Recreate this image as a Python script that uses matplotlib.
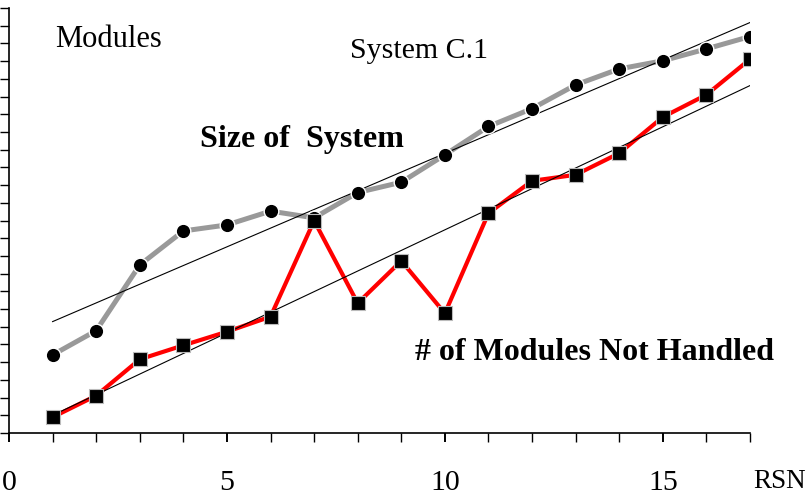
import matplotlib
matplotlib.use("Agg")
import matplotlib.pyplot as plt
from matplotlib.ticker import MultipleLocator

plt.rcParams['font.family'] = ['Liberation Serif', 'DejaVu Serif']

# Release sequence numbers
rsn = [1, 2, 3, 4, 5, 6, 7, 8, 9, 10, 11, 12, 13, 14, 15, 16, 17]

# Size of system (modules)
size_of_system = [4.41, 5.78, 9.49, 11.41, 11.75, 12.53, 12.15, 13.58, 14.16,
                  15.71, 17.31, 18.32, 19.66, 20.56, 21.02, 21.69, 22.39]

# Number of modules not handled
not_handled = [0.89, 2.11, 4.16, 4.95, 5.72, 6.57, 11.99, 7.33, 9.72,
               6.76, 12.41, 14.24, 14.58, 15.80, 17.84, 19.10, 21.11]

# Straight trend lines: values at the first and last release
trend_x = [1, 17]
trend_size = [6.29, 23.18]
trend_not_handled = [1.00, 19.62]

W, H = 806, 504
fig = plt.figure(figsize=(W / 100, H / 100), dpi=100)
ax = fig.add_axes([9 / W, 1 - 433 / H, (750 - 9) / W, (433 - 8) / H])

ax.set_xlim(0, 17)
ax.set_ylim(0, 24)

# Trend lines
ax.plot(trend_x, trend_size, color='black', lw=0.8, zorder=3)
ax.plot(trend_x, trend_not_handled, color='black', lw=0.8, zorder=3)

# Series lines
ax.plot(rsn, size_of_system, color='#999999', lw=3.6, zorder=2,
        solid_capstyle='butt')
ax.plot(rsn, not_handled, color='#ff0000', lw=3.0, zorder=2,
        solid_capstyle='butt')

# Markers
ax.plot(rsn, size_of_system, ls='none', marker='o', ms=10.5,
        mfc='black', mec='white', mew=1.0, zorder=4)
ax.plot(rsn, not_handled, ls='none', marker='s', ms=10.0,
        mfc='black', mec='#bbbbbb', mew=0.8, zorder=5)

# Axes styling
for side in ('top', 'right'):
    ax.spines[side].set_visible(False)
for side in ('left', 'bottom'):
    ax.spines[side].set_linewidth(1.2)

ax.xaxis.set_major_locator(MultipleLocator(5))
ax.xaxis.set_minor_locator(MultipleLocator(1))
ax.yaxis.set_major_locator(MultipleLocator(1))
ax.tick_params(axis='x', which='major', direction='out', length=6.5, width=1.4,
               labelsize=21.5, pad=20)
ax.tick_params(axis='x', which='minor', direction='out', length=6.5, width=1.0)
ax.tick_params(axis='y', which='major', direction='out', length=6.5, width=1.0,
               labelleft=False)

ax.set_xticklabels([str(int(v)) for v in ax.get_xticks()])

# Axis title, placed to the right of the x axis
fig.text(753 / W, 1 - 481 / H, 'RSN', fontsize=19.5, va='center', ha='left')

# Annotations
fig.text(55 / W, 1 - 40 / H, 'Modules', fontsize=22, va='center', ha='left')
fig.text(350 / W, 1 - 51 / H, 'System C.1', fontsize=21.5, va='center', ha='left')
fig.text(200 / W, 1 - 139 / H, 'Size of  System', fontsize=23,
         fontweight='bold', va='center', ha='left')
fig.text(415 / W, 1 - 353 / H, '# of Modules Not Handled', fontsize=23,
         fontweight='bold', va='center', ha='left')

fig.savefig('out.png', dpi=100)
